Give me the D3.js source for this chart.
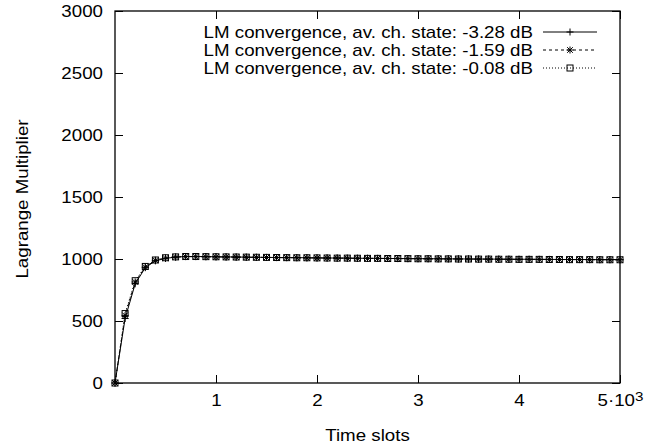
<!DOCTYPE html>
<html>
<head>
<meta charset="utf-8">
<script src="https://cdn.jsdelivr.net/npm/d3@7"></script>
<style>
  html, body { margin: 0; padding: 0; background: #fff; }
  svg { display: block; font-family: "Liberation Sans", Arial, Helvetica, sans-serif; }
</style>
</head>
<body>
<svg id="chart" width="662" height="447"></svg>
<script>
// ---- data ----
const timeSlots = [0,100,200,300,400,500,600,700,800,900,1000,1100,1200,1300,1400,1500,1600,1700,1800,1900,2000,2100,2200,2300,2400,2500,2600,2700,2800,2900,3000,3100,3200,3300,3400,3500,3600,3700,3800,3900,4000,4100,4200,4300,4400,4500,4600,4700,4800,4900,5000];
const lmA = [0,520,800,930,985,1005,1015,1020,1020,1019,1018,1017,1016,1015,1014,1013,1012,1011,1011,1010,1009,1008,1008,1007,1006,1006,1005,1004,1004,1003,1003,1002,1002,1001,1001,1000,1000,999,999,998,998,998,997,997,996,996,996,995,995,995,994];
const lmB = [0,545,815,935,990,1008,1016,1019,1019,1018,1017,1016,1015,1014,1013,1012,1011,1011,1010,1009,1008,1008,1007,1006,1006,1005,1005,1004,1003,1003,1002,1002,1001,1001,1000,1000,999,999,998,998,997,997,997,996,996,995,995,995,994,994,994];
const lmC = [0,560,825,940,992,1010,1017,1020,1020,1019,1018,1017,1016,1015,1014,1013,1012,1011,1010,1010,1009,1008,1007,1007,1006,1005,1005,1004,1004,1003,1002,1002,1001,1001,1000,1000,999,999,998,998,997,997,997,996,996,995,995,995,994,994,994];
const seriesNames = [
  "LM convergence, av. ch. state: -3.28 dB",
  "LM convergence, av. ch. state: -1.59 dB",
  "LM convergence, av. ch. state: -0.08 dB"
];
const xTicks = [1000,2000,3000,4000,5000];
const xTickLabels = ["1","2","3","4","5·10"];
const yTicks = [0,500,1000,1500,2000,2500,3000];
const xTitle = "Time slots";
const yTitle = "Lagrange Multiplier";

// ---- layout ----
const svg = d3.select("#chart");
const L = 115, R = 620, T = 11, B = 383;
const x = d3.scaleLinear().domain([0, 5000]).range([L, R]);
const y = d3.scaleLinear().domain([0, 3000]).range([B, T]);
const fontSize = 16;
const stretch = 1.17; // the original font is rendered wide

const series = [
  { name: seriesNames[0], values: lmA, dash: null, marker: "plus" },
  { name: seriesNames[1], values: lmB, dash: "3,3", marker: "star" },
  { name: seriesNames[2], values: lmC, dash: "1,2", marker: "square" }
];

// axes (gnuplot-style inward ticks, mirrored)
const gx = svg.append("g").attr("transform", `translate(0,${B})`)
  .call(d3.axisBottom(x).tickValues(xTicks).tickSize(-8).tickPadding(12)
    .tickFormat((d, i) => xTickLabels[i]));
const gxTop = svg.append("g").attr("transform", `translate(0,${T})`)
  .call(d3.axisTop(x).tickValues(xTicks).tickSize(-8).tickFormat(""));
const gy = svg.append("g").attr("transform", `translate(${L},0)`)
  .call(d3.axisLeft(y).tickValues(yTicks).tickSize(-8).tickPadding(12).tickFormat(d3.format("d")));
const gyR = svg.append("g").attr("transform", `translate(${R},0)`)
  .call(d3.axisRight(y).tickValues(yTicks).tickSize(-8).tickFormat(""));

[gx, gxTop, gy, gyR].forEach(g => {
  g.select(".domain").remove();
  g.selectAll(".tick line").attr("stroke", "#000").attr("stroke-width", 1);
  g.selectAll(".tick text").attr("font-size", fontSize).attr("fill", "#000")
    .attr("font-family", "Liberation Sans, Arial, sans-serif")
    .each(function () {
      const t = d3.select(this);
      const x0 = +t.attr("x") || 0;
      t.attr("x", x0 / stretch).attr("transform", `scale(${stretch},1)`);
    });
});
// superscript on last x label
gx.selectAll(".tick text").filter((d) => d === 5000)
  .append("tspan").attr("dy", "-0.45em").attr("font-size", 13).text("3");

// frame
svg.append("rect").attr("x", L).attr("y", T).attr("width", R - L).attr("height", B - T)
  .attr("fill", "none").attr("stroke", "#000").attr("stroke-width", 1.3);

// titles
svg.append("text").attr("transform", `translate(${(L + R) / 2},441) scale(${stretch},1)`)
  .attr("text-anchor", "middle").attr("font-size", fontSize).text(xTitle);
svg.append("text").attr("transform", `translate(28,${(T + B) / 2 + 2}) rotate(-90) scale(${stretch},1)`)
  .attr("text-anchor", "middle").attr("font-size", fontSize).text(yTitle);

// marker drawing
function drawMarker(g, type, cx, cy) {
  const s = 3.5;
  if (type === "plus") {
    g.append("path").attr("d", `M${cx - s},${cy}H${cx + s}M${cx},${cy - s}V${cy + s}`)
      .attr("stroke", "#000").attr("stroke-width", 1).attr("fill", "none");
  } else if (type === "star") {
    const d = s * 0.8;
    g.append("path").attr("d",
      `M${cx - s},${cy}H${cx + s}M${cx},${cy - s}V${cy + s}M${cx - d},${cy - d}L${cx + d},${cy + d}M${cx - d},${cy + d}L${cx + d},${cy - d}`)
      .attr("stroke", "#000").attr("stroke-width", 1).attr("fill", "none");
  } else {
    g.append("rect").attr("x", cx - 3).attr("y", cy - 3).attr("width", 6).attr("height", 6)
      .attr("stroke", "#000").attr("stroke-width", 1).attr("fill", "none");
  }
}

const line = d3.line().x((d, i) => x(timeSlots[i])).y(d => y(d));
series.forEach(s => {
  const g = svg.append("g");
  g.append("path").datum(s.values).attr("d", line)
    .attr("fill", "none").attr("stroke", "#000").attr("stroke-width", 1)
    .attr("stroke-dasharray", s.dash);
  s.values.forEach((v, i) => drawMarker(g, s.marker, x(timeSlots[i]), y(v)));
});

// legend
const legendRows = [32, 50, 68];
series.forEach((s, i) => {
  const ly = legendRows[i];
  svg.append("text").attr("transform", `translate(533,${ly}) scale(${stretch},1)`).attr("dy", "0.35em")
    .attr("text-anchor", "end").attr("font-size", fontSize).text(s.name);
  svg.append("line").attr("x1", 543).attr("x2", 597).attr("y1", ly).attr("y2", ly)
    .attr("stroke", "#000").attr("stroke-width", 1).attr("stroke-dasharray", s.dash);
  drawMarker(svg, s.marker, 570, ly);
});
</script>
</body>
</html>
